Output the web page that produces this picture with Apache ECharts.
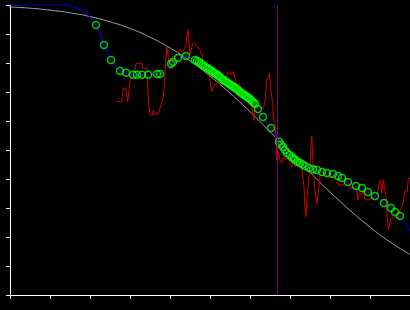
<!DOCTYPE html>
<html>
<head>
<meta charset="utf-8">
<script src="https://cdn.jsdelivr.net/npm/echarts@6/dist/echarts.min.js"></script>
<style>
html,body{margin:0;padding:0;background:#000;}
#chart{width:410px;height:310px;}
</style>
</head>
<body>
<div id="chart"></div>
<script>
// Smooth reference curve (gray)
const grayX = [-0.25,0,0.5,1,1.5,2,2.5,3,3.5,4,4.5,5,5.5,6,6.5,7,7.5,8,8.5,9,9.5,10];
const grayY = [9.94,9.93,9.89,9.82,9.73,9.60,9.42,9.19,8.89,8.52,8.07,7.55,6.96,6.32,5.63,4.93,4.23,3.55,2.92,2.34,1.83,1.40];

// Fitted points (green circles)
const circleX = [2.15,2.35,2.525,2.75,2.9,3.075,3.175,3.3,3.45,3.675,3.75,4.025,4.075,4.2,4.4,
  4.625,4.675,4.725,4.775,4.825,4.875,4.925,4.9625,5.0,5.0375,5.075,5.1125,5.15,5.1875,5.225,5.2625,5.3,5.3375,5.375,5.4125,5.45,5.4875,5.525,5.5625,5.6,5.6375,5.675,5.7125,5.75,5.7875,5.825,5.8625,5.9,5.9375,5.975,6.0125,6.05,6.0875,6.125,6.2,
  6.325,6.525,6.725,6.775,6.825,6.875,6.925,6.99,7.05,7.09,7.125,7.19,7.25,7.31,7.375,7.475,7.575,7.675,7.8,7.925,8.075,8.2,8.3,8.45,8.65,8.8,8.95,9.125,9.35,9.525,9.625,9.75];
const circleY = [9.31,8.62,8.10,7.72,7.66,7.59,7.59,7.59,7.59,7.62,7.62,7.97,8.03,8.17,8.24,
  8.10,8.07,8.03,7.98,7.93,7.88,7.83,7.80,7.76,7.72,7.69,7.65,7.62,7.58,7.55,7.50,7.45,7.41,7.38,7.34,7.31,7.27,7.24,7.20,7.17,7.13,7.10,7.05,7.00,6.96,6.93,6.89,6.86,6.82,6.79,6.74,6.69,6.64,6.59,6.41,
  6.14,5.76,5.28,5.19,5.10,5.00,4.90,4.83,4.76,4.71,4.66,4.60,4.55,4.50,4.45,4.38,4.34,4.31,4.24,4.21,4.17,4.10,4.03,3.90,3.76,3.69,3.55,3.41,3.17,3.00,2.86,2.72];

// Blue line: lead-in, through the circles, tail
const blueHeadX = [0,1.325,1.5,1.675,1.85,2.0];
const blueHeadY = [10,10,9.97,9.90,9.76,9.59];
const blueTailX = [9.875,10];
const blueTailY = [2.48,2.21];

// Noisy measured signal (red)
const redX = [2.668,2.793,2.833,2.893,2.918,2.943,2.975,3.0,3.025,3.125,3.15,3.308,3.308,3.418,3.433,3.458,3.5,3.558,3.583,3.625,3.708,3.75,3.808,3.833,3.85,3.875,3.9,3.918,3.943,3.958,3.983,4.043,4.068,4.15,4.193,4.25,4.3,4.375,4.418,4.458,4.483,4.5,4.525,4.568,4.625,4.683,4.75,4.808,4.833,4.9,4.983,5.018,5.043,5.083,5.125,5.168,5.25,5.293,5.375,5.458,5.5,5.543,5.583,5.625,5.668,5.733,5.775,5.875,5.958,6.018,6.068,6.1,6.125,6.175,6.25,6.333,6.375,6.418,6.458,6.483,6.518,6.543,6.568,6.583,6.625,6.65,6.668,6.708,6.75,6.793,6.833,6.875,6.958,7.0,7.043,7.083,7.125,7.208,7.293,7.333,7.35,7.375,7.4,7.418,7.458,7.5,7.525,7.543,7.568,7.583,7.625,7.668,7.708,7.75,7.793,7.875,7.975,8.075,8.168,8.208,8.333,8.375,8.458,8.5,8.583,8.668,8.693,8.733,8.793,8.833,8.875,8.958,9.043,9.125,9.183,9.233,9.268,9.293,9.333,9.375,9.4,9.433,9.458,9.5,9.525,9.625,9.708,9.75,9.818,9.875,9.933,9.958,10];
const redY = [6.67,6.67,7.13,7.13,6.90,6.67,6.67,7.36,7.59,7.76,7.99,7.99,7.82,7.82,7.47,6.67,6.21,6.21,6.38,6.21,6.27,6.44,6.67,6.67,7.07,7.59,8.22,8.56,8.56,8.22,7.82,7.82,8.22,8.22,8.39,8.48,8.38,8.51,8.51,9.16,8.56,8.28,8.39,8.68,8.68,8.59,8.45,8.22,8.04,7.83,7.59,7.18,7.01,7.18,7.13,7.30,7.30,7.53,7.41,7.70,7.76,7.59,7.70,7.47,7.24,7.30,7.13,7.01,6.86,6.72,6.27,6.03,6.61,6.61,6.44,6.44,6.67,7.41,7.53,7.64,7.18,6.84,6.61,6.09,5.86,5.46,4.66,4.94,4.66,4.54,4.77,4.66,4.71,4.54,4.42,4.60,4.42,4.54,4.37,4.31,3.73,2.99,2.70,3.28,3.85,4.42,5.11,5.48,4.77,4.31,3.62,3.14,3.51,4.08,4.25,4.20,4.03,4.10,4.20,3.79,3.79,3.91,3.85,3.68,3.73,3.68,3.28,3.51,3.45,3.62,3.28,3.28,3.33,3.39,3.51,3.85,3.97,3.51,3.97,3.97,3.39,2.70,2.24,2.24,2.64,2.70,2.64,2.93,3.10,3.56,3.56,4.02,4.02];

// Vertical marker position
const markerX = 6.675;

const zip = (xs, ys) => xs.map((x, i) => [x, ys[i]]);
const blueData = zip(blueHeadX.concat(circleX, blueTailX), blueHeadY.concat(circleY, blueTailY));

const chart = echarts.init(document.getElementById('chart'), null, {renderer: 'canvas'});
const axisCommon = {
  type: 'value',
  axisLine: {show: true, lineStyle: {color: '#ffffff', width: 1}},
  axisTick: {show: true, length: 4, inside: false, lineStyle: {color: '#ffffff', width: 1}},
  axisLabel: {show: false},
  splitLine: {show: false}
};
chart.setOption({
  backgroundColor: '#000000',
  animation: false,
  grid: {left: 10, right: 0, top: 5, bottom: 15, containLabel: false},
  xAxis: Object.assign({}, axisCommon, {min: 0, max: 10, interval: 1}),
  yAxis: Object.assign({}, axisCommon, {min: 0, max: 9.999, interval: 1}),
  series: [
    {
      type: 'line', data: zip(grayX, grayY), smooth: true, showSymbol: false, clip: false,
      lineStyle: {color: '#a0a0a0', width: 1}, z: 1,
      markLine: {
        silent: true, symbol: 'none', label: {show: false},
        lineStyle: {color: '#800080', width: 1, type: 'solid'},
        data: [{xAxis: markerX}]
      }
    },
    {
      type: 'line', data: zip(redX, redY), showSymbol: false,
      lineStyle: {color: '#d00000', width: 1}, z: 2
    },
    {
      type: 'line', data: blueData, showSymbol: false,
      lineStyle: {color: '#0000ff', width: 1}, z: 3
    },
    {
      type: 'scatter', data: zip(circleX, circleY), symbol: 'circle', symbolSize: 7,
      itemStyle: {color: 'rgba(0,0,0,0)', borderColor: '#00ff00', borderWidth: 1.5}, z: 4
    }
  ]
});
</script>
</body>
</html>
